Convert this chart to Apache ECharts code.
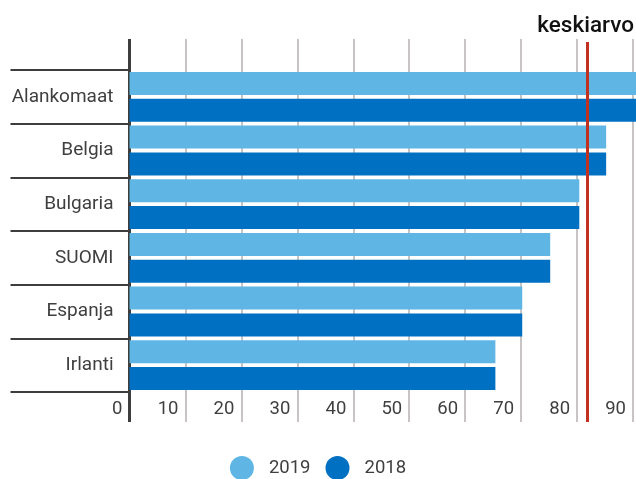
<!DOCTYPE html>
<html>
<head>
<meta charset="utf-8">
<script src="https://cdn.jsdelivr.net/npm/echarts@6/dist/echarts.min.js"></script>
<style>
  html, body { margin: 0; padding: 0; background: #fff; }
  #chart { width: 636px; height: 479px; }
</style>
</head>
<body>
<div id="chart"></div>
<script>
// Countries, top to bottom
const categories = ['Alankomaat', 'Belgia', 'Bulgaria', 'SUOMI', 'Espanja', 'Irlanti'];
const values2019 = [91.5, 85.2, 80.4, 75.2, 70.2, 65.4];
const values2018 = [91.5, 85.2, 80.4, 75.2, 70.2, 65.4];
const seriesNames = ['2019', '2018'];
const averageValue = 81.8;
const averageLabel = 'keskiarvo';
const xTicks = [0, 10, 20, 30, 40, 50, 60, 70, 80, 90];

const FONT = 'Roboto, "Noto Sans", sans-serif';
const GRID_GRAY = '#c9c4c4';
const AXIS_DARK = '#3d3d3d';
const RED = '#c2301f';
const TEXT = '#3f3f3f';

const chart = echarts.init(document.getElementById('chart'), null, { renderer: 'canvas' });

// shared value-axis scale
const scale = { type: 'value', min: 0, max: 90, interval: 10 };

// helper: a label-less axis used only for drawing extended tick strokes
function tickAxis(position, ticks, color, width, length) {
  return Object.assign({}, scale, {
    position: position,
    axisLine: { show: false },
    axisLabel: { show: false },
    splitLine: { show: false },
    axisTick: { show: true, customValues: ticks, length: length, lineStyle: { color: color, width: width } }
  });
}

const option = {
  animation: false,
  textStyle: { fontFamily: FONT },
  grid: { left: 129.5, right: 3, top: 70, bottom: 87, containLabel: false, outerBoundsMode: 'none' },
  legend: {
    top: 451,
    left: 'center',
    icon: 'circle',
    itemWidth: 24,
    itemHeight: 24,
    itemGap: 15,
    data: seriesNames,
    textStyle: { fontSize: 18.5, color: TEXT, fontFamily: FONT, padding: [0, 0, 0, 10] }
  },
  xAxis: [
    // main axis: labels, gridlines, ticks below the plot
    Object.assign({}, scale, {
      position: 'bottom',
      axisLine: { show: false },
      axisTick: { show: true, customValues: xTicks.slice(1), length: 30, lineStyle: { color: GRID_GRAY, width: 2 } },
      axisLabel: { fontSize: 18.5, color: TEXT, fontFamily: FONT, align: 'right', margin: 8, padding: [0, 7, 0, 0] },
      splitLine: { show: true, lineStyle: { color: GRID_GRAY, width: 2 } }
    }),
    // gridline stubs above the plot
    tickAxis('top', xTicks.slice(1), GRID_GRAY, 2, 31),
    // value axis line extended above and below
    tickAxis('top', [0], AXIS_DARK, 3, 31),
    tickAxis('bottom', [0], AXIS_DARK, 3, 30),
    // average line stubs and its caption
    Object.assign(tickAxis('top', [averageValue], RED, 3, 28), {
      axisLabel: {
        show: true,
        customValues: [averageValue],
        formatter: function () { return averageLabel; },
        fontSize: 22.5,
        fontWeight: 500,
        color: '#111',
        fontFamily: FONT,
        margin: 32,
        padding: [0, 3, 0, 0],
        hideOverlap: false
      }
    }),
    tickAxis('bottom', [averageValue], RED, 3, 30)
  ],
  yAxis: {
    type: 'category',
    inverse: true,
    data: categories,
    axisLine: { show: true, lineStyle: { color: AXIS_DARK, width: 3 } },
    axisTick: { show: true, length: 119, lineStyle: { color: AXIS_DARK, width: 2 } },
    axisLabel: { fontSize: 19, color: TEXT, fontFamily: FONT, margin: 16 },
    splitLine: { show: false }
  },
  series: [
    {
      name: seriesNames[0],
      type: 'bar',
      data: values2019,
      barWidth: 23,
      barGap: '17%',
      clip: false,
      itemStyle: { color: '#5fb6e4' },
      markLine: {
        silent: true,
        symbol: 'none',
        label: { show: false },
        lineStyle: { color: RED, width: 3, type: 'solid' },
        data: [{ xAxis: averageValue }],
        z: 10
      }
    },
    {
      name: seriesNames[1],
      type: 'bar',
      data: values2018,
      barWidth: 23,
      clip: false,
      itemStyle: { color: '#0071c2' }
    }
  ]
};

chart.setOption(option);
</script>
</body>
</html>
